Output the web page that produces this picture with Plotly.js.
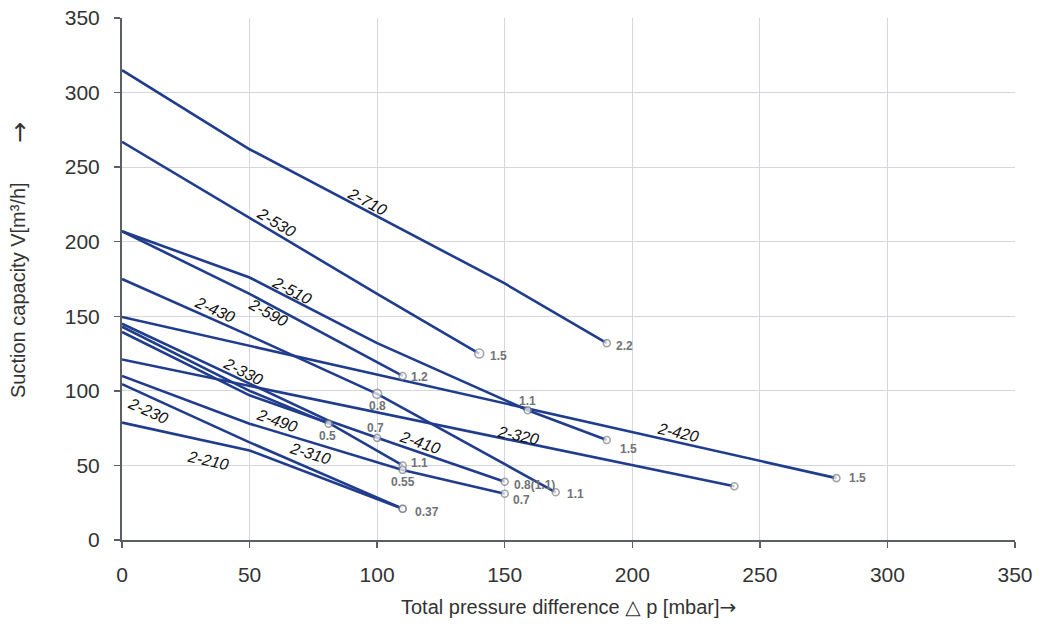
<!DOCTYPE html>
<html><head><meta charset="utf-8">
<script src="https://cdn.plot.ly/plotly-3.0.1.min.js"></script>
<style>html,body{margin:0;padding:0;background:#fff}</style>
</head><body><div id="chart" style="width:1043px;height:628px"></div>
<script>
// ---- data ----
const x_2_710 = [0, 50, 150, 190];
const y_2_710 = [315, 262, 172, 132];
const p_2_710 = ['', '', '', '2.2'];

const x_2_530 = [0, 50, 100, 140];
const y_2_530 = [267, 216, 165, 125];
const p_2_530 = ['', '', '', '1.5'];

const x_2_510 = [0, 50, 100, 159, 190];
const y_2_510 = [207, 176, 132, 87, 67];
const p_2_510 = ['', '', '', '1.1', '1.5'];

const x_2_590 = [0, 50, 110];
const y_2_590 = [207, 165, 110];
const p_2_590 = ['', '', '1.2'];

const x_2_430 = [0, 50, 100, 170];
const y_2_430 = [175, 137, 98, 32];
const p_2_430 = ['', '', '0.8', '1.1'];

const x_2_420 = [0, 280];
const y_2_420 = [149.5, 41.5];
const p_2_420 = ['', '1.5'];

const x_2_320 = [0, 240];
const y_2_320 = [121, 36];
const p_2_320 = ['', ' '];

const x_2_330 = [0, 50, 81];
const y_2_330 = [143, 100, 78];
const p_2_330 = ['', '', '0.5'];

const x_2_490 = [0, 50, 81, 110];
const y_2_490 = [139.5, 97, 78.5, 50];
const p_2_490 = ['', '', '', '1.1'];

const x_2_410 = [0, 50, 81, 100, 150];
const y_2_410 = [145, 105, 80, 68.5, 39];
const p_2_410 = ['', '', '', '0.7', '0.8(1.1)'];

const x_2_310 = [0, 50, 110, 150];
const y_2_310 = [110, 78, 47, 31];
const p_2_310 = ['', '', '0.55', '0.7'];

const x_2_230 = [0, 50, 110];
const y_2_230 = [104.5, 65.5, 21];
const p_2_230 = ['', '', '0.37'];

const x_2_210 = [0, 50, 110];
const y_2_210 = [78.7, 60, 21];
const p_2_210 = ['', '', ' '];

const tickVals = [0, 50, 100, 150, 200, 250, 300, 350];

const series = [
  {name: '2-710', x: x_2_710, y: y_2_710, p: p_2_710},
  {name: '2-530', x: x_2_530, y: y_2_530, p: p_2_530},
  {name: '2-510', x: x_2_510, y: y_2_510, p: p_2_510},
  {name: '2-590', x: x_2_590, y: y_2_590, p: p_2_590},
  {name: '2-430', x: x_2_430, y: y_2_430, p: p_2_430},
  {name: '2-420', x: x_2_420, y: y_2_420, p: p_2_420},
  {name: '2-320', x: x_2_320, y: y_2_320, p: p_2_320},
  {name: '2-330', x: x_2_330, y: y_2_330, p: p_2_330},
  {name: '2-490', x: x_2_490, y: y_2_490, p: p_2_490},
  {name: '2-410', x: x_2_410, y: y_2_410, p: p_2_410},
  {name: '2-310', x: x_2_310, y: y_2_310, p: p_2_310},
  {name: '2-230', x: x_2_230, y: y_2_230, p: p_2_230},
  {name: '2-210', x: x_2_210, y: y_2_210, p: p_2_210}
];

// ---- styling / placement ----
const W = 1043, H = 628, M = {l: 122, r: 28, t: 18, b: 88};
const plotW = W - M.l - M.r, plotH = H - M.t - M.b;
const pxX = plotW / 350, pxY = plotH / 350;
const LINE = '#203d8d', MK = '#7e8186', TXT = '#333333';
const FONT = 'Liberation Sans, Arial, sans-serif';

// series label placement: [x along line, vertical shift px]
const labelPlace = {
  '2-710': [96, 9], '2-530': [60.5, 11], '2-510': [66.5, 9], '2-590': [57.2, -9],
  '2-430': [36.3, 11], '2-330': [47.5, 16], '2-490': [60.6, -16], '2-410': [116.8, 10],
  '2-310': [73.7, -12], '2-230': [10, -15], '2-210': [33.8, -19], '2-320': [155.4, 6],
  '2-420': [218, 10]
};
// point label placement keyed by series|label: [xanchor, xshift, yshift]
const ptPlace = {
  '2-710|2.2': ['left', 7, -3], '2-530|1.5': ['left', 9, -2], '2-510|1.1': ['center', 0, 9],
  '2-510|1.5': ['left', 11, -9], '2-590|1.2': ['left', 6, -1], '2-430|0.8': ['center', 0, -12],
  '2-430|1.1': ['left', 9, -2], '2-420|1.5': ['left', 11, 0], '2-330|0.5': ['center', -1, -12],
  '2-490|1.1': ['left', 6, 2], '2-410|0.7': ['center', -2, 10], '2-410|0.8(1.1)': ['left', 7, -3],
  '2-310|0.55': ['center', 0, -12], '2-310|0.7': ['left', 6, -6], '2-230|0.37': ['left', 10, -3]
};
const bigMarkers = {'2-530|1.5': 1, '2-430|0.8': 1};

function interp(xs, ys, xv) {
  for (let i = 0; i < xs.length - 1; i++) {
    if (xv >= xs[i] && xv <= xs[i + 1]) {
      const t = (xv - xs[i]) / (xs[i + 1] - xs[i]);
      return {y: ys[i] + t * (ys[i + 1] - ys[i]), s: (ys[i + 1] - ys[i]) / (xs[i + 1] - xs[i])};
    }
  }
  return {y: ys[ys.length - 1], s: 0};
}

const traces = [];
const ann = [];
series.forEach(s => {
  traces.push({x: s.x, y: s.y, mode: 'lines', line: {color: LINE, width: 2.6}, hoverinfo: 'skip', cliponaxis: false});
});
series.forEach(s => {
  const mx = [], my = [], ms = [];
  s.p.forEach((lab, i) => {
    if (lab === '') return;
    mx.push(s.x[i]); my.push(s.y[i]);
    ms.push(bigMarkers[s.name + '|' + lab] ? 9 : 7);
    const pl = ptPlace[s.name + '|' + lab];
    if (pl && lab.trim() !== '') {
      ann.push({x: s.x[i], y: s.y[i], xref: 'x', yref: 'y', text: '<b>' + lab + '</b>', showarrow: false,
        xanchor: pl[0], yanchor: 'middle', xshift: pl[1], yshift: pl[2],
        font: {family: FONT, size: 12, color: '#707377'}});
    }
  });
  traces.push({x: mx, y: my, mode: 'markers', hoverinfo: 'skip', cliponaxis: false,
    marker: {symbol: 'circle', size: ms, color: '#ffffff', line: {color: MK, width: 1.6}}});
  const lp = labelPlace[s.name];
  const r = interp(s.x, s.y, lp[0]);
  const ang = Math.atan(-r.s * pxY / pxX) * 180 / Math.PI;
  ann.push({x: lp[0], y: r.y, xref: 'x', yref: 'y', text: '<i>' + s.name + '</i>', showarrow: false,
    textangle: ang, xanchor: 'center', yanchor: 'middle', yshift: lp[1],
    font: {family: FONT, size: 16, color: '#111111'}});
});

// axis titles
ann.push({xref: 'paper', yref: 'paper', x: (18 - M.l) / plotW, y: (M.t + plotH - 290) / plotH,
  text: 'Suction capacity V[m³/h]', textangle: -90, showarrow: false, xanchor: 'center', yanchor: 'middle',
  font: {family: FONT, size: 20, color: TXT}});
ann.push({xref: 'paper', yref: 'paper', x: (19 - M.l) / plotW, y: (M.t + plotH - 133) / plotH,
  text: '→', textangle: -90, showarrow: false, xanchor: 'center', yanchor: 'middle',
  font: {family: 'DejaVu Sans, sans-serif', size: 25, color: TXT}});
ann.push({xref: 'paper', yref: 'paper', x: 0.5, y: (M.t + plotH - 607) / plotH,
  text: 'Total pressure difference <span style="font-family:DejaVu Sans">△</span> p [mbar]<span style="font-family:DejaVu Sans">→</span>',
  showarrow: false, xanchor: 'center', yanchor: 'middle',
  font: {family: FONT, size: 20, color: TXT}});

const axisBase = {
  range: [0, 350], tickvals: tickVals, ticktext: tickVals.map(String), showgrid: true,
  gridcolor: '#d4d7dd', gridwidth: 1, zeroline: false, showline: true, linecolor: '#5b5e63', linewidth: 2,
  ticks: 'outside', ticklen: 6, tickwidth: 1.5, tickcolor: '#5b5e63',
  tickfont: {family: FONT, size: 21, color: TXT}, fixedrange: true
};

const layout = {
  width: W, height: H, margin: M, showlegend: false, hovermode: false,
  paper_bgcolor: '#ffffff', plot_bgcolor: '#ffffff',
  xaxis: Object.assign({}, axisBase, {ticklabelstandoff: 9}),
  yaxis: Object.assign({}, axisBase, {ticklabelstandoff: 10}),
  annotations: ann
};

Plotly.newPlot('chart', traces, layout, {staticPlot: true, displayModeBar: false});
</script>
</body></html>
